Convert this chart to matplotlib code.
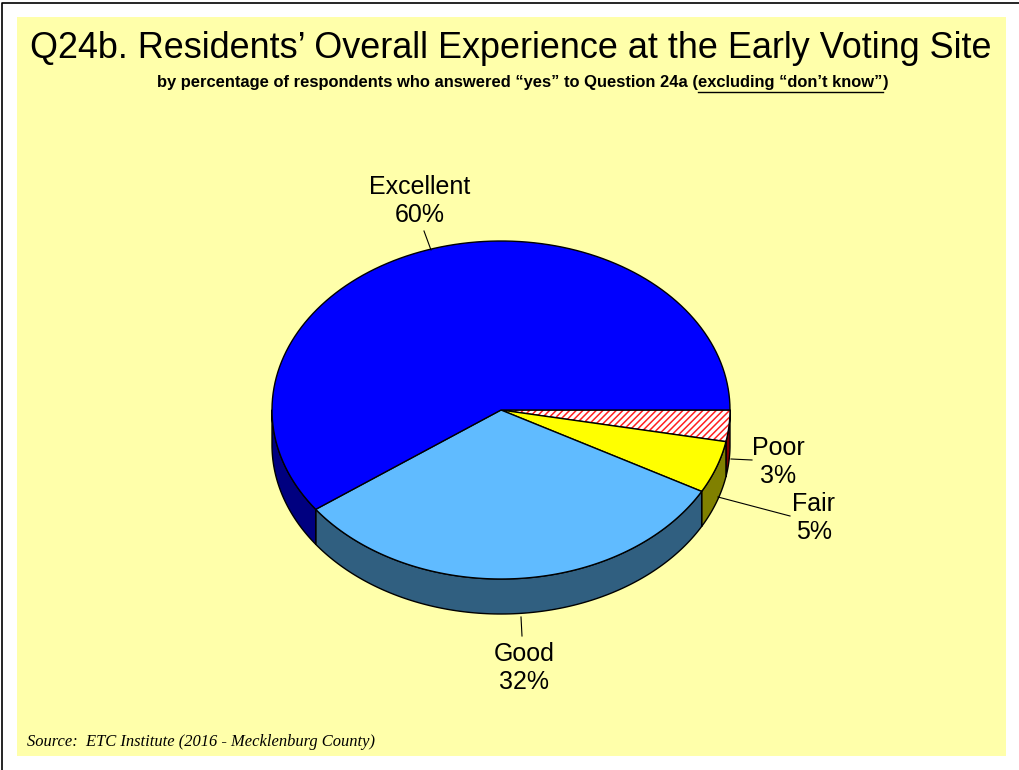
import numpy as np
import matplotlib.pyplot as plt
from matplotlib import font_manager
from matplotlib.patches import Polygon, Rectangle

# Survey results (percent)
categories = ['Poor', 'Fair', 'Good', 'Excellent']
values = [3, 5, 32, 60]
top_colors = ['white', '#FFFF00', '#60BBFF', '#0000FF']
side_colors = ['#800000', '#808000', '#305F80', '#000080']

title = 'Q24b. Residents\u2019 Overall Experience at the Early Voting Site'
sub_parts = ['by percentage of respondents who answered \u201cyes\u201d to Question 24a (',
             'excluding \u201cdon\u2019t know\u201d', ')']
source = 'Source:  ETC Institute (2016 - Mecklenburg County)'

W, H = 1020, 770
fig = plt.figure(figsize=(W / 100, H / 100), dpi=100)
ax = fig.add_axes([0, 0, 1, 1])
ax.set_xlim(0, W)
ax.set_ylim(H, 0)
ax.axis('off')
r = fig.canvas.get_renderer()


def fit_width(t, target):
    # shrink/grow a text so it spans the given pixel width
    w = t.get_window_extent(r).width
    t.set_fontsize(t.get_fontsize() * target / w)


# frame and background panel
ax.plot([2.5, 2.5, W], [H, 2.5, 2.5], color='black', lw=1.2)
ax.add_patch(Rectangle((17, 17), 989, 739, facecolor='#FFFFAA', edgecolor='none'))

# pie geometry (pixel units)
cx, cy, rx, ry, depth = 501, 410, 229, 169, 35


def arc(a1, a2, dy=0, n=120):
    t = np.radians(np.linspace(a1, a2, n))
    return np.column_stack([cx + rx * np.cos(t), cy - ry * np.sin(t) + dy])


# slices run clockwise from 3 o'clock
fracs = np.array(values) / sum(values)
ends = -360 * np.cumsum(fracs)
starts = np.concatenate([[0], ends[:-1]])

# side walls on the front half
for a1, a2, sc in zip(starts, ends, side_colors):
    lo, hi = max(a2, -180), min(a1, 0)
    if lo >= hi:
        continue
    top = arc(hi, lo)
    bot = arc(lo, hi, dy=depth)
    ax.add_patch(Polygon(np.vstack([top, bot]), closed=True, facecolor=sc,
                         edgecolor='black', lw=1.0, joinstyle='round'))

# top faces
plt.rcParams['hatch.linewidth'] = 1.1
for i, (a1, a2, tc) in enumerate(zip(starts, ends, top_colors)):
    pts = np.vstack([[cx, cy], arc(a1, a2), [cx, cy]])
    if categories[i] == 'Poor':
        ax.add_patch(Polygon(pts, closed=True, facecolor='white', edgecolor='#FF2020',
                             hatch='/////', lw=0))
        ax.add_patch(Polygon(pts, closed=True, fill=False, edgecolor='black', lw=1.0))
    else:
        ax.add_patch(Polygon(pts, closed=True, facecolor=tc, edgecolor='black',
                             lw=1.0, joinstyle='round'))

# labels with leader lines
lab_font = dict(family='Liberation Sans', fontsize=18, ha='center', va='center',
                linespacing=1.2)
label_pos = {'Excellent': (420, 201), 'Good': (524, 668), 'Fair': (814, 518), 'Poor': (778, 462)}
leaders = {'Excellent': [(424, 231), (431, 250)], 'Good': [(521, 617), (522, 636)],
           'Fair': [(718, 497), (790, 516)], 'Poor': [(731, 459), (752, 460)]}
for cat, v in zip(categories, values):
    x, y = label_pos[cat]
    ax.text(x, y, f'{cat}\n{v}%', **lab_font)
    (x0, y0), (x1, y1) = leaders[cat]
    ax.plot([x0, x1], [y0, y1], color='black', lw=0.8)

# title in a narrow face when available
names = {f.name for f in font_manager.fontManager.ttflist}
title_family = 'Liberation Sans Narrow' if 'Liberation Sans Narrow' in names else 'Liberation Sans'
tt = ax.text(511, 49, title, family=title_family, fontsize=30, ha='center', va='center')
fit_width(tt, 962)

# subtitle with underlined tail
sub_font = dict(family='Liberation Sans', fontsize=10, fontweight='bold', va='center')
texts = [ax.text(0, 83, s, **sub_font) for s in sub_parts]
widths = [t.get_window_extent(r).width for t in texts]
scale = 733 / sum(widths)
for t in texts:
    t.set_fontsize(10 * scale)
widths = [t.get_window_extent(r).width for t in texts]
x = 523 - sum(widths) / 2
for t, w in zip(texts, widths):
    t.set_x(x)
    x += w
ux0 = 523 - sum(widths) / 2 + widths[0]
ax.plot([ux0, ux0 + widths[1]], [92, 92], color='black', lw=1.0)

src = ax.text(27, 742, source, family='Liberation Serif', style='italic', fontsize=11,
              ha='left', va='center')
fit_width(src, 348)

fig.savefig('out.png', dpi=100)
